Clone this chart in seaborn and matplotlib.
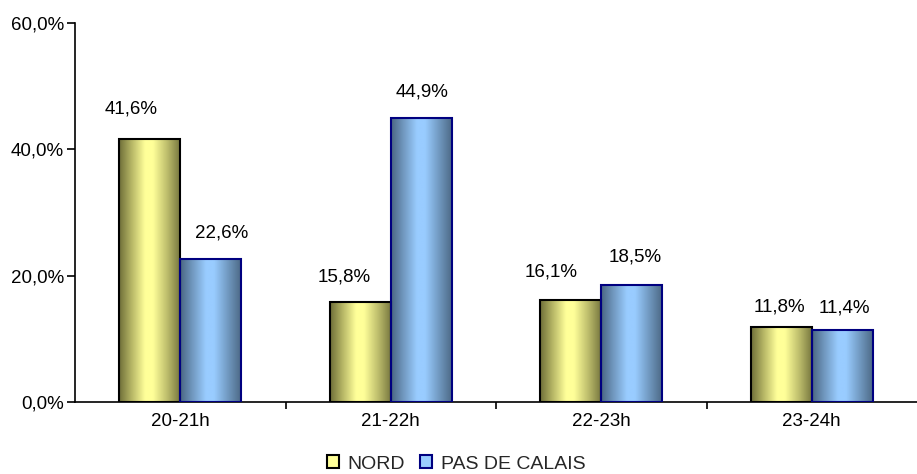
import numpy as np
import pandas as pd
import matplotlib
matplotlib.use("Agg")
import matplotlib.pyplot as plt
import seaborn as sns
from matplotlib.colors import LinearSegmentedColormap
from matplotlib.patches import Patch
from matplotlib.ticker import FixedLocator, FuncFormatter

categories = ["20-21h", "21-22h", "22-23h", "23-24h"]
series = ["NORD", "PAS DE CALAIS"]
nord = [41.6, 15.8, 16.1, 11.8]
pdc = [22.6, 44.9, 18.5, 11.4]
y_ticks = [0, 20, 40, 60]

# label offsets (dx, dy) from bar top centre, in pixels
nord_label_off = [(-19, 30), (-16, 25), (-20, 28), (-2, 20)]
pdc_label_off = [(11, 26), (1, 26), (3, 28), (2, 22)]

sns.set_theme(style="white")
plt.rcParams["font.family"] = ["Liberation Sans", "DejaVu Sans"]
FS = 13.5
FS_LEG = 14

df = pd.DataFrame({
    "cat": categories * 2,
    "serie": [series[0]] * 4 + [series[1]] * 4,
    "val": nord + pdc,
})

fig = plt.figure(figsize=(9.17, 4.74), dpi=100)
ax = fig.add_axes([75 / 917, 72 / 474, 1 - 75 / 917, (402 - 23) / 474])

face = {"NORD": "#FFFF99", "PAS DE CALAIS": "#99CCFF"}
edge = {"NORD": "#000000", "PAS DE CALAIS": "#000080"}
sns.barplot(data=df, x="cat", y="val", hue="serie", hue_order=series,
            palette=face, width=0.58, ax=ax, legend=False, saturation=1)

cmaps = {
    "NORD": LinearSegmentedColormap.from_list(
        "y", [(0.0, "#6E6E38"), (0.2, "#B5B565"), (0.42, "#FFFF99"),
              (0.55, "#FFFF99"), (0.78, "#BDBD6C"), (1.0, "#73733C")]),
    "PAS DE CALAIS": LinearSegmentedColormap.from_list(
        "b", [(0.0, "#4A6682"), (0.2, "#7198BF"), (0.42, "#99CCFF"),
              (0.55, "#99CCFF"), (0.78, "#7098BF"), (1.0, "#4A6682")]),
}
grad = np.linspace(0, 1, 256).reshape(1, -1)

for i, container in enumerate(ax.containers):
    s = series[i]
    offs = nord_label_off if i == 0 else pdc_label_off
    for j, p in enumerate(container.patches):
        x0, w, h = p.get_x(), p.get_width(), p.get_height()
        p.set_edgecolor(edge[s])
        p.set_linewidth(1.5)
        p.set_facecolor("none")
        p.set_zorder(3)
        im = ax.imshow(grad, cmap=cmaps[s], aspect="auto", origin="lower",
                       extent=(x0, x0 + w, 0, h), interpolation="bilinear")
        im.set_zorder(2.5)
        lab = f"{h:.1f}%".replace(".", ",")
        dx, dy = offs[j]
        ax.annotate(lab, (x0 + w / 2, h), xytext=(dx * 72 / 100, dy * 72 / 100),
                    textcoords="offset points", ha="center", va="center",
                    fontsize=FS, color="black")

ax.set_xlim(-0.5, 3.5)
ax.set_ylim(0, 60)
ax.set_aspect("auto")
ax.yaxis.set_major_locator(FixedLocator(y_ticks))
ax.yaxis.set_major_formatter(FuncFormatter(lambda v, _: f"{v:.1f}%".replace(".", ",")))
ax.set_xlabel("")
ax.set_ylabel("")
for sp in ["top", "right"]:
    ax.spines[sp].set_visible(False)
for sp in ["left", "bottom"]:
    ax.spines[sp].set_color("black")
    ax.spines[sp].set_linewidth(1.2)
ax.tick_params(axis="y", which="major", direction="out", length=6, width=1.2,
               color="black", left=True, labelsize=FS, pad=2, labelcolor="black")
ax.tick_params(axis="x", which="major", length=0, labelsize=FS, pad=8, labelcolor="black")
ax.xaxis.set_minor_locator(FixedLocator([0.5, 1.5, 2.5]))
ax.tick_params(axis="x", which="minor", direction="out", length=5, width=1.2,
               color="black", bottom=True)
ax.grid(False)

handles = [Patch(facecolor=face[s], edgecolor=edge[s], linewidth=1.5, label=s) for s in series]
fig.legend(handles=handles, loc="center", bbox_to_anchor=(456 / 917, 1 - 464 / 474),
           ncol=2, frameon=False, fontsize=FS_LEG, handlelength=0.62, handleheight=0.62,
           handletextpad=0.45, columnspacing=0.75, borderpad=0)

fig.savefig("out.png", dpi=100)
